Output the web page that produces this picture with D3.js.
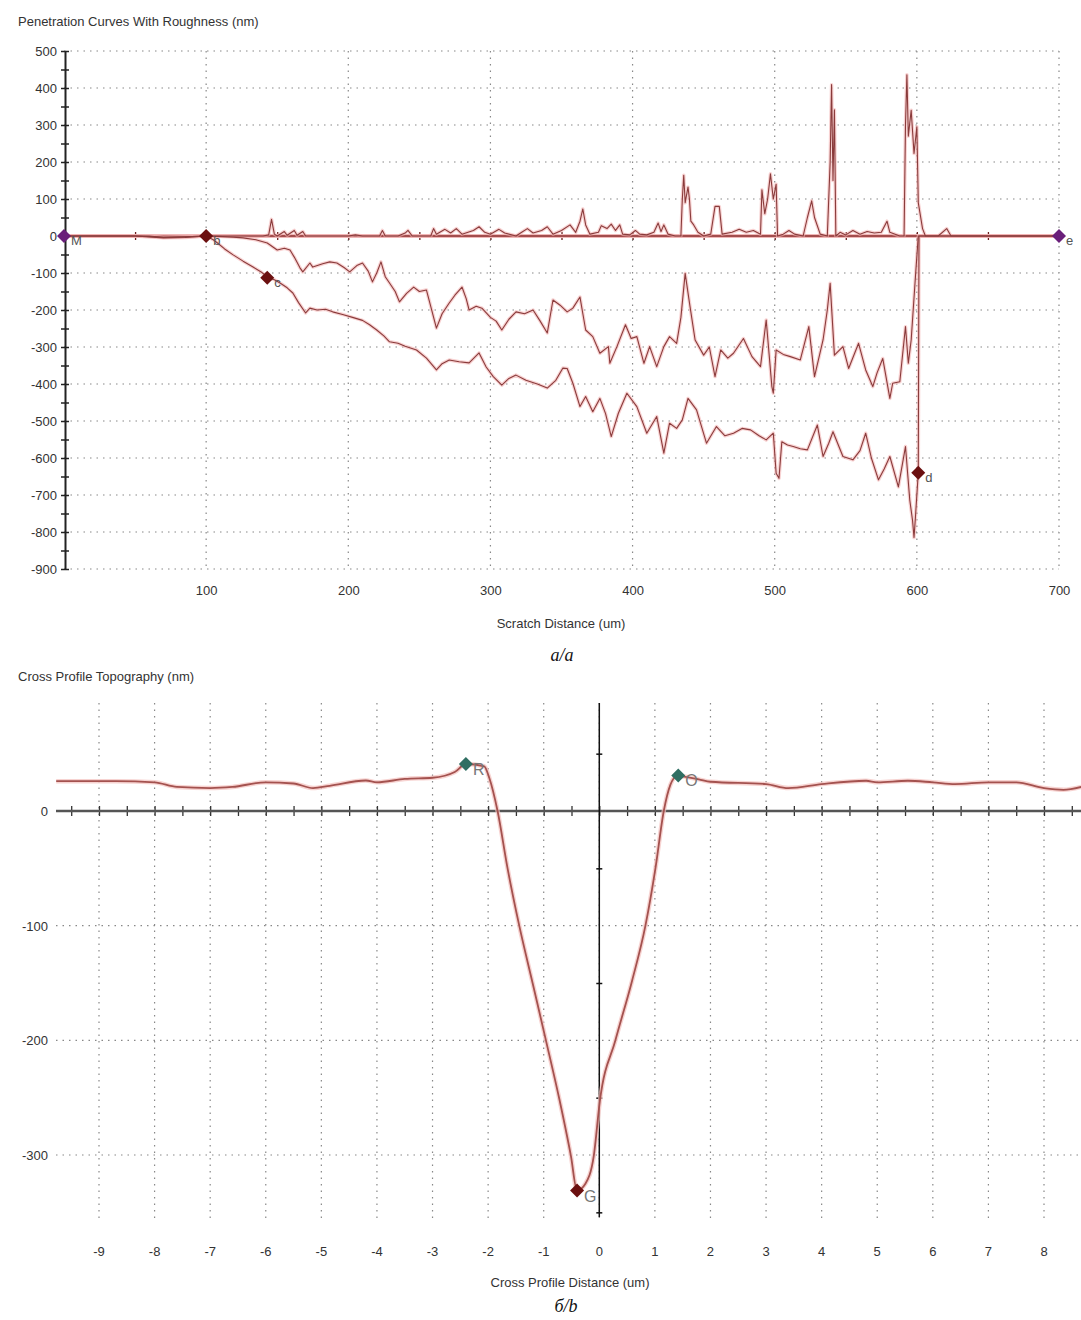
<!DOCTYPE html>
<html>
<head>
<meta charset="utf-8">
<script src="https://cdn.jsdelivr.net/npm/d3@7"></script>
<style>
  body { margin: 0; background: #fff; }
  text { font-family: "Liberation Sans", Arial, sans-serif; fill: #333; }
</style>
</head>
<body>
<script>

// ---- chart a: penetration curves (x in um, y in nm)
var roughnessLine = [[0,0],[60,0],[70,-4],[80,-3],[95,-1],[100,0],[110,0],[140,0],[144,3],[146,45],[148,5],[150,0],[155,12],[157,2],[162,15],[164,2],[168,12],[170,0],[200,0],[205,3],[210,0],[222,0],[224,15],[226,0],[235,0],[240,8],[242,15],[245,0],[258,0],[260,20],[262,5],[268,18],[272,8],[276,20],[280,5],[288,15],[292,25],[296,10],[300,5],[306,18],[310,8],[318,0],[322,10],[326,20],[330,8],[336,15],[340,25],[344,5],[350,15],[356,30],[360,10],[363,40],[365,73],[367,30],[370,5],[376,10],[378,28],[382,20],[385,32],[388,15],[391,30],[393,5],[398,3],[402,15],[405,5],[410,3],[415,10],[418,35],[420,12],[422,30],[425,5],[430,0],[434,0],[435,100],[436,164],[437,90],[439,132],[440,100],[441,40],[443,30],[446,10],[450,0],[455,5],[458,80],[461,80],[463,5],[470,10],[475,18],[480,10],[485,15],[490,5],[491,125],[493,60],[495,100],[497,168],[499,100],[501,140],[502,0],[506,5],[510,15],[514,5],[520,0],[523,50],[526,95],[528,50],[532,5],[537,0],[539,200],[540,409],[541,150],[542,341],[543,0],[546,10],[550,3],[555,15],[560,5],[565,12],[570,8],[575,10],[579,40],[581,10],[588,0],[591,0],[592,300],[593,436],[594,270],[596,340],[598,223],[600,295],[601,90],[604,20],[606,0],[615,0],[621,20],[624,0],[700,0]];

var residualDepth = [[0,0],[50,0],[70,-3],[85,-2],[100,0],[108,-1],[119,-3],[126,-5],[135,-10],[143,-19],[150,-38],[155,-33],[159,-38],[162,-57],[166,-86],[168,-97],[173,-73],[175,-84],[182,-75],[187,-70],[192,-73],[197,-85],[201,-97],[206,-80],[210,-73],[214,-95],[217,-124],[220,-100],[223,-70],[226,-110],[229,-127],[233,-150],[236,-178],[241,-155],[246,-138],[250,-150],[255,-146],[258,-190],[262,-249],[266,-210],[271,-181],[275,-160],[280,-138],[283,-170],[285,-200],[290,-190],[294,-195],[300,-220],[304,-230],[308,-254],[313,-225],[318,-205],[324,-210],[330,-200],[335,-230],[340,-262],[344,-173],[349,-187],[354,-205],[358,-195],[363,-165],[367,-254],[372,-272],[377,-317],[383,-299],[384,-344],[389,-299],[395,-240],[399,-277],[403,-272],[408,-344],[412,-299],[417,-353],[422,-299],[426,-272],[431,-290],[434,-220],[437,-101],[440,-180],[444,-281],[450,-322],[454,-300],[458,-380],[462,-308],[467,-330],[471,-317],[478,-277],[484,-326],[490,-353],[494,-227],[498,-407],[499,-425],[501,-308],[506,-320],[511,-326],[518,-335],[524,-245],[528,-380],[534,-281],[537,-200],[539,-128],[542,-322],[548,-299],[552,-358],[559,-290],[564,-362],[569,-407],[572,-370],[576,-331],[581,-439],[583,-398],[588,-394],[592,-245],[594,-344],[596,-281],[599,-110],[601,0],[650,0],[700,0]];

var penetrationDepth = [[0,0],[50,0],[70,-5],[85,-4],[100,0],[105,-10],[108,-19],[113,-35],[119,-51],[126,-68],[133,-84],[139,-98],[144,-113],[148,-118],[152,-127],[157,-140],[161,-154],[165,-180],[170,-208],[173,-195],[178,-200],[184,-198],[189,-205],[196,-212],[203,-220],[210,-228],[215,-240],[220,-254],[225,-270],[229,-286],[235,-290],[240,-298],[248,-308],[255,-330],[262,-362],[266,-345],[271,-335],[278,-340],[285,-343],[292,-316],[297,-354],[302,-380],[308,-403],[313,-385],[318,-376],[325,-390],[333,-400],[340,-411],[346,-390],[351,-357],[354,-358],[358,-398],[363,-461],[367,-434],[372,-475],[377,-439],[381,-480],[385,-542],[390,-479],[396,-425],[403,-461],[410,-533],[417,-488],[422,-587],[426,-506],[431,-520],[435,-497],[439,-439],[445,-470],[452,-560],[459,-515],[465,-540],[471,-533],[477,-520],[483,-524],[489,-540],[494,-551],[499,-533],[501,-641],[503,-655],[505,-556],[509,-565],[513,-569],[518,-575],[523,-578],[530,-511],[534,-596],[538,-560],[541,-529],[548,-596],[555,-605],[560,-580],[564,-533],[568,-600],[573,-659],[577,-630],[581,-596],[587,-678],[592,-569],[595,-713],[597,-770],[598,-815],[599,-760],[600,-700],[601,-640],[601.5,0],[700,0]];

var markersA = [
  { x: 0, y: 0, label: "M", color: "#6a1f7a" },
  { x: 100, y: 0, label: "b", color: "#6b1010" },
  { x: 143, y: -113, label: "c", color: "#6b1010" },
  { x: 601, y: -640, label: "d", color: "#6b1010" },
  { x: 700, y: 0, label: "e", color: "#6a1f7a" }
];
var xTicksA = [100, 200, 300, 400, 500, 600, 700];
var yTicksA = [500, 400, 300, 200, 100, 0, -100, -200, -300, -400, -500, -600, -700, -800, -900];

// ---- chart b: cross profile (x in um, y in nm)
var crossProfile = [[-9.77,26],[-9.2,26],[-8.7,26],[-8,25],[-7.6,21],[-7,20],[-6.6,21],[-6,25],[-5.5,24],[-5.15,20],[-4.85,22],[-4.2,26.6],[-4,25],[-3.5,28],[-3,29],[-2.6,34],[-2.4,41],[-2.07,39],[-1.98,29],[-1.83,0],[-1.65,-50],[-1.44,-100],[-1.2,-150],[-0.96,-200],[-0.72,-251],[-0.51,-301],[-0.4,-331],[-0.25,-325],[-0.1,-301],[0.01,-253],[0.29,-200],[0.59,-148],[0.83,-100],[1.01,-50],[1.16,0],[1.28,23],[1.4,30.5],[1.79,27.6],[2,25.5],[3,23.5],[3.4,20],[4,23.5],[4.8,26.4],[5,25],[5.55,26.4],[6,25],[6.4,23.5],[7,25],[7.5,25],[8,20],[8.35,18.5],[8.67,21]];

var markersB = [
  { x: -2.4, y: 41, label: "R", color: "#2f6e62" },
  { x: 1.42, y: 31, label: "O", color: "#2f6e62" },
  { x: -0.4, y: -331, label: "G", color: "#6b1010" }
];
var xTicksB = [-9, -8, -7, -6, -5, -4, -3, -2, -1, 0, 1, 2, 3, 4, 5, 6, 7, 8];
var yTicksB = [0, -100, -200, -300];

var svg = d3.select("body").append("svg")
  .attr("width", 1081)
  .attr("height", 1320);

function diamond(g, cx, cy, color) {
  var s = 7;
  g.append("path")
    .attr("d", "M" + cx + "," + (cy - s) + "L" + (cx + s) + "," + cy + "L" + cx + "," + (cy + s) + "L" + (cx - s) + "," + cy + "Z")
    .attr("fill", color);
}

// ================= chart a
var xA = d3.scaleLinear().domain([0, 700]).range([64, 1059]);
var yA = d3.scaleLinear().domain([-900, 500]).range([569, 51]);

var gA = svg.append("g");

gA.append("text").attr("x", 18).attr("y", 26).style("font-size", "13px")
  .text("Penetration Curves With Roughness (nm)");

// dotted grid
gA.append("g").selectAll("line").data(yTicksA).join("line")
  .attr("x1", xA(0)).attr("x2", xA(700))
  .attr("y1", d => yA(d)).attr("y2", d => yA(d))
  .attr("stroke", "#888").attr("stroke-width", 1.2).attr("stroke-dasharray", "1.5,5");
gA.append("g").selectAll("line").data(xTicksA).join("line")
  .attr("x1", d => xA(d)).attr("x2", d => xA(d))
  .attr("y1", yA(500)).attr("y2", yA(-900))
  .attr("stroke", "#888").attr("stroke-width", 1.2).attr("stroke-dasharray", "1.5,5");

// x labels below plot
var xAxisA = gA.append("g")
  .attr("transform", `translate(0, ${yA(-900)})`)
  .call(d3.axisBottom(xA).tickValues(xTicksA).tickSize(0).tickPadding(17));
xAxisA.select(".domain").remove();
xAxisA.selectAll("text").style("font-size", "13px").style("font-family", "Liberation Sans, Arial").attr("fill", "#333");

// zero axis with ticks every 50
var zeroAxisA = gA.append("g")
  .attr("transform", `translate(0, ${yA(0)})`)
  .call(d3.axisBottom(xA).tickValues(d3.range(50, 701, 50)).tickSize(0).tickFormat(""));
zeroAxisA.select(".domain").remove();
zeroAxisA.selectAll(".tick line").attr("y1", -4).attr("y2", 4).attr("stroke", "#6b2020").attr("stroke-width", 1.3);
gA.append("line")
  .attr("x1", xA(0)).attr("x2", xA(700)).attr("y1", yA(0)).attr("y2", yA(0))
  .attr("stroke", "#f0b8b8").attr("stroke-width", 4);
gA.append("line")
  .attr("x1", xA(0)).attr("x2", xA(700)).attr("y1", yA(0)).attr("y2", yA(0))
  .attr("stroke", "#8a2a2a").attr("stroke-width", 1.6);

// y axis
var yAxisA = gA.append("g")
  .attr("transform", `translate(${xA(0) + 1}, 0)`)
  .call(d3.axisLeft(yA).tickValues(d3.range(-900, 501, 50)).tickSize(0).tickPadding(8)
    .tickFormat(d => d % 100 === 0 ? d : ""));
yAxisA.select(".domain").attr("stroke", "#222").attr("stroke-width", 2);
yAxisA.selectAll(".tick line").attr("x1", -4).attr("x2", 4).attr("stroke", "#222").attr("stroke-width", 1.5);
yAxisA.selectAll("text").style("font-size", "13px").style("font-family", "Liberation Sans, Arial").attr("fill", "#333");

var lineA = d3.line().x(d => xA(d[0])).y(d => yA(d[1]));

[roughnessLine, residualDepth, penetrationDepth].forEach(function(series) {
  gA.append("path").datum(series)
    .attr("d", lineA).attr("fill", "none")
    .attr("stroke", "#f4b4b4").attr("stroke-width", 3.5).attr("stroke-opacity", 0.6)
    .attr("stroke-linejoin", "round");
});
[roughnessLine, residualDepth, penetrationDepth].forEach(function(series) {
  gA.append("path").datum(series)
    .attr("d", lineA).attr("fill", "none")
    .attr("stroke", "#8a3b3b").attr("stroke-width", 1.1)
    .attr("stroke-linejoin", "round");
});

markersA.forEach(function(m) {
  diamond(gA, xA(m.x), yA(m.y), m.color);
  gA.append("text").attr("x", xA(m.x) + 7).attr("y", yA(m.y) + 9)
    .style("font-size", "13px").attr("fill", "#555").style("fill", "#555").text(m.label);
});

gA.append("text").attr("x", 561).attr("y", 628).attr("text-anchor", "middle")
  .style("font-size", "13px").text("Scratch Distance (um)");
gA.append("text").attr("x", 562).attr("y", 661).attr("text-anchor", "middle")
  .style("font-family", "Liberation Serif, Times New Roman, serif").style("font-style", "italic")
  .style("font-size", "18px").style("fill", "#111").text("a/a");

// ================= chart b
var xB = d3.scaleLinear().domain([-9, 8]).range([99, 1044]);
var yB = d3.scaleLinear().domain([0, -300]).range([811, 1155]);
var leftB = 56, rightB = 1081, topB = 703, bottomB = 1222;

var gB = svg.append("g");

gB.append("text").attr("x", 18).attr("y", 681).style("font-size", "13px")
  .text("Cross Profile Topography (nm)");

gB.append("g").selectAll("line").data(xTicksB).join("line")
  .attr("x1", d => xB(d)).attr("x2", d => xB(d))
  .attr("y1", topB).attr("y2", bottomB)
  .attr("stroke", "#888").attr("stroke-width", 1.2).attr("stroke-dasharray", "1.5,5");
gB.append("g").selectAll("line").data(yTicksB.filter(d => d !== 0)).join("line")
  .attr("x1", leftB).attr("x2", rightB)
  .attr("y1", d => yB(d)).attr("y2", d => yB(d))
  .attr("stroke", "#888").attr("stroke-width", 1.2).attr("stroke-dasharray", "1.5,5");

// zero axis with half-unit ticks
var zeroAxisB = gB.append("g")
  .attr("transform", `translate(0, ${yB(0)})`)
  .call(d3.axisBottom(xB).tickValues(d3.range(-9.5, 8.6, 0.5)).tickSize(0).tickFormat(""));
zeroAxisB.select(".domain").remove();
zeroAxisB.selectAll(".tick line").attr("y1", -5).attr("y2", 5).attr("stroke", "#333").attr("stroke-width", 1.3);
gB.append("line").attr("x1", leftB).attr("x2", rightB).attr("y1", yB(0)).attr("y2", yB(0))
  .attr("stroke", "#555").attr("stroke-width", 2.5);

// vertical axis at x = 0
var yAxisB = gB.append("g")
  .attr("transform", `translate(${xB(0)}, 0)`)
  .call(d3.axisLeft(yB).tickValues([50, -50, -150, -250, -350]).tickSize(0).tickFormat(""));
yAxisB.select(".domain").remove();
yAxisB.selectAll(".tick line").attr("x1", -3).attr("x2", 3).attr("stroke", "#111").attr("stroke-width", 1.5);
gB.append("line").attr("x1", xB(0)).attr("x2", xB(0)).attr("y1", topB).attr("y2", 1217)
  .attr("stroke", "#111").attr("stroke-width", 1.5);

// y labels on the left
gB.append("g").selectAll("text").data(yTicksB).join("text")
  .attr("x", 48).attr("y", d => yB(d) + 5).attr("text-anchor", "end")
  .style("font-size", "13px").text(d => d);

// x labels at the bottom
gB.append("g").selectAll("text").data(xTicksB).join("text")
  .attr("x", d => xB(d)).attr("y", 1256).attr("text-anchor", "middle")
  .style("font-size", "13px").text(d => d);

var lineB = d3.line().x(d => xB(d[0])).y(d => yB(d[1])).curve(d3.curveMonotoneX);
gB.append("path").datum(crossProfile)
  .attr("d", lineB).attr("fill", "none")
  .attr("stroke", "#f3c0bd").attr("stroke-width", 4.5).attr("stroke-opacity", 0.7);
gB.append("path").datum(crossProfile)
  .attr("d", lineB).attr("fill", "none")
  .attr("stroke", "#a4524f").attr("stroke-width", 1.8);

markersB.forEach(function(m) {
  diamond(gB, xB(m.x), yB(m.y), m.color);
  gB.append("text").attr("x", xB(m.x) + 7).attr("y", yB(m.y) + 11)
    .style("font-size", "16px").style("fill", "#777").text(m.label);
});

gB.append("text").attr("x", 570).attr("y", 1287).attr("text-anchor", "middle")
  .style("font-size", "13px").text("Cross Profile Distance (um)");
gB.append("text").attr("x", 566).attr("y", 1312).attr("text-anchor", "middle")
  .style("font-family", "Liberation Serif, Times New Roman, serif").style("font-style", "italic")
  .style("font-size", "18px").style("fill", "#111").text("б/b");

</script>
</body>
</html>
